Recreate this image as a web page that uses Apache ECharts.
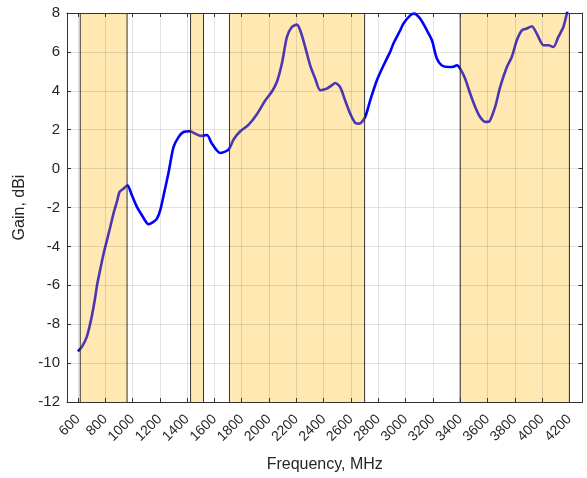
<!DOCTYPE html>
<html>
<head>
<meta charset="utf-8">
<script src="https://cdn.jsdelivr.net/npm/echarts@6/dist/echarts.min.js"></script>
<style>html,body{margin:0;padding:0;background:#fff}#c{width:587px;height:478px}</style>
</head>
<body>
<div id="c"></div>
<script>
// Frequency (MHz) and gain (dBi)
const freq = [600,630,665,700,727,740,763,787,812,837,861,886,905,934,963,995,1032,1069,1117,1150,1179,1203,1230,1264,1300,1337,1373,1422,1459,1500,1545,1581,1642,1703,1740,1789,1849,1911,1972,2020,2057,2094,2131,2167,2204,2228,2265,2301,2338,2375,2423,2460,2484,2521,2557,2594,2631,2662,2704,2741,2790,2838,2887,2911,2960,2985,3034,3063,3107,3156,3193,3229,3266,3314,3351,3376,3400,3436,3473,3510,3546,3583,3614,3656,3693,3742,3778,3815,3852,3888,3925,3961,4010,4046,4083,4119,4156,4181,4200];
const gain = [-9.4,-9.15,-8.65,-7.65,-6.6,-6.0,-5.2,-4.4,-3.7,-3.0,-2.3,-1.7,-1.2,-1.03,-0.86,-1.37,-1.97,-2.4,-2.86,-2.75,-2.57,-2.14,-1.3,-0.2,1.1,1.62,1.88,1.92,1.8,1.68,1.73,1.29,0.8,0.98,1.5,1.92,2.25,2.8,3.5,3.95,4.45,5.4,6.77,7.28,7.4,7.11,6.25,5.31,4.63,4.03,4.11,4.28,4.4,4.19,3.51,2.83,2.35,2.31,2.65,3.51,4.54,5.3,6.0,6.43,7.1,7.46,7.88,7.97,7.71,7.11,6.6,5.66,5.3,5.22,5.24,5.31,5.14,4.63,3.86,3.17,2.65,2.4,2.43,3.17,4.2,5.22,5.74,6.6,7.11,7.2,7.32,6.94,6.34,6.34,6.25,6.77,7.28,7.97,8.5];
// Highlighted frequency bands [start, end] in MHz
const bandStart = [617, 1425, 1710, 3400];
const bandEnd = [960, 1520, 2700, 4200];
// Tick values
const xTicks = [600,800,1000,1200,1400,1600,1800,2000,2200,2400,2600,2800,3000,3200,3400,3600,3800,4000,4200];
const yMin = -12, yMax = 8, yStep = 2;
const xMin = 520, xMax = 4296;

const chart = echarts.init(document.getElementById('c'), null, {renderer: 'canvas'});
const txt = '#262626';
const font = 'Liberation Sans, Arial, Helvetica, sans-serif';
const lineData = freq.map((f, i) => [f, gain[i]]);
const bandData = bandStart.map((s, i) => [s, bandEnd[i]]);

const baseX = {
  type: 'value', min: xMin, max: xMax, z: 4,
  axisLine: {show: true, onZero: false, lineStyle: {color: '#333', width: 1}},
  axisTick: {show: true, inside: true, length: 4, customValues: xTicks, lineStyle: {color: '#333'}},
};
const baseY = {
  type: 'value', min: yMin, max: yMax, interval: yStep, z: 4,
  axisLine: {show: true, onZero: false, lineStyle: {color: '#333', width: 1}},
  axisTick: {show: true, inside: true, length: 4, lineStyle: {color: '#333'}},
};

chart.setOption({
  animation: false,
  backgroundColor: '#fff',
  grid: {left: 67, right: 4.5, top: 13, bottom: 76, containLabel: false},
  xAxis: [
    Object.assign({}, baseX, {
      position: 'bottom',
      name: 'Frequency, MHz', nameLocation: 'middle', nameGap: 55,
      nameTextStyle: {color: txt, fontSize: 16, fontFamily: font},
      axisLabel: {show: true, rotate: 45, margin: 15, customValues: xTicks, color: txt, fontSize: 14, fontFamily: font,
                  formatter: v => String(v)},
      splitLine: {show: true, lineStyle: {color: 'rgba(0,0,0,0.11)', width: 1}}
    }),
    Object.assign({}, baseX, {
      position: 'top',
      axisLabel: {show: false},
      splitLine: {show: false}
    })
  ],
  yAxis: [
    Object.assign({}, baseY, {
      position: 'left',
      name: 'Gain, dBi', nameLocation: 'middle', nameGap: 39,
      nameTextStyle: {color: txt, fontSize: 16, fontFamily: font},
      axisLabel: {show: true, margin: 7, color: txt, fontSize: 15, fontFamily: font},
      splitLine: {show: true, lineStyle: {color: 'rgba(0,0,0,0.11)', width: 1}}
    }),
    Object.assign({}, baseY, {
      position: 'right',
      axisLabel: {show: false},
      splitLine: {show: false}
    })
  ],
  series: [
    {
      type: 'line', data: lineData, z: 2, xAxisIndex: 0, yAxisIndex: 0,
      showSymbol: false, symbol: 'none', smooth: 0.25, clip: true,
      lineStyle: {color: '#0000ff', width: 2.6}
    },
    {
      type: 'custom', data: bandData, z: 3, xAxisIndex: 0, yAxisIndex: 0,
      encode: {x: [0, 1]}, clip: true,
      renderItem: function (params, api) {
        const p0 = api.coord([api.value(0), yMax]);
        const p1 = api.coord([api.value(1), yMin]);
        return {
          type: 'group',
          children: [
            {type: 'rect', shape: {x: p0[0], y: p0[1], width: p1[0] - p0[0], height: p1[1] - p0[1]},
             style: {fill: 'rgba(255,179,0,0.3)'}},
            {type: 'line', shape: {x1: p0[0], y1: p0[1], x2: p0[0], y2: p1[1]},
             style: {stroke: '#333', lineWidth: 1}},
            {type: 'line', shape: {x1: p1[0], y1: p0[1], x2: p1[0], y2: p1[1]},
             style: {stroke: '#333', lineWidth: 1}}
          ]
        };
      }
    }
  ]
});
</script>
</body>
</html>
